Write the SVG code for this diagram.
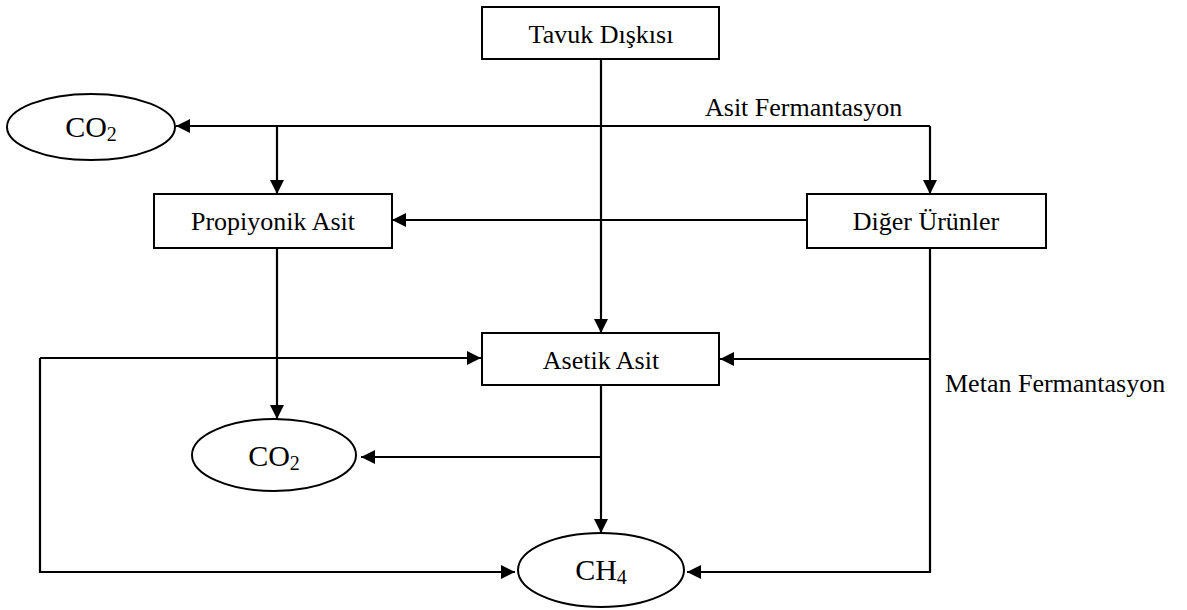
<svg xmlns="http://www.w3.org/2000/svg" width="1187" height="610" viewBox="0 0 1187 610">
<defs>
<marker id="ah" markerUnits="userSpaceOnUse" markerWidth="15" markerHeight="14" refX="14" refY="7" orient="auto">
<path d="M0,0 L14,7 L0,14 z" fill="#000"/>
</marker>
<style>
.box{fill:#fff;stroke:#000;stroke-width:2}
.t{font-family:"Liberation Serif","Times New Roman",serif;font-size:26px;fill:#000;text-anchor:middle}
.m{font-family:"Liberation Serif","Times New Roman",serif;font-size:30px;fill:#000;text-anchor:middle}
.lbl{font-family:"Liberation Serif","Times New Roman",serif;font-size:26px;fill:#000}
.c{fill:none;stroke:#000;stroke-width:2.2}
.a{marker-end:url(#ah)}
</style>
</defs>
<rect width="1187" height="610" fill="#fff"/>
<g id="connectors">
<path class="c a" d="M601,59 V333"/>
<path class="c a" d="M930,126 H176"/>
<path class="c a" d="M930,126 V194"/>
<path class="c a" d="M277,126 V194"/>
<path class="c a" d="M807,220 H392"/>
<path class="c a" d="M277,248 V419"/>
<path class="c a" d="M40,358 H481"/>
<path class="c a" d="M40,358 V572 H515"/>
<path class="c a" d="M930,248 V572 H687"/>
<path class="c a" d="M930,359 H720"/>
<path class="c a" d="M601,385 V533"/>
<path class="c a" d="M601,457 H361"/>
</g>
<g id="tavuk"><rect class="box" x="482" y="7" width="237" height="52"/><text class="t" x="601" y="43">Tavuk Dışkısı</text></g>
<g id="co2-top"><ellipse class="box" cx="91" cy="127" rx="84" ry="33"/><text class="m" x="91" y="137">CO<tspan font-size="20" dy="4">2</tspan></text></g>
<g id="propiyonik"><rect class="box" x="154" y="194" width="238" height="54"/><text class="t" x="273" y="230">Propiyonik Asit</text></g>
<g id="diger"><rect class="box" x="807" y="194" width="239" height="54"/><text class="t" x="926" y="230">Diğer Ürünler</text></g>
<g id="asetik"><rect class="box" x="482" y="333" width="237" height="52"/><text class="t" x="601" y="369">Asetik Asit</text></g>
<g id="co2-mid"><ellipse class="box" cx="274" cy="455" rx="82" ry="36"/><text class="m" x="274" y="466">CO<tspan font-size="20" dy="4">2</tspan></text></g>
<g id="ch4"><ellipse class="box" cx="601" cy="570" rx="83" ry="37"/><text class="m" x="601" y="580">CH<tspan font-size="20" dy="4">4</tspan></text></g>
<g id="labels">
<text class="lbl" x="705" y="116">Asit Fermantasyon</text>
<text class="lbl" x="945" y="392">Metan Fermantasyon</text>
</g>
</svg>
